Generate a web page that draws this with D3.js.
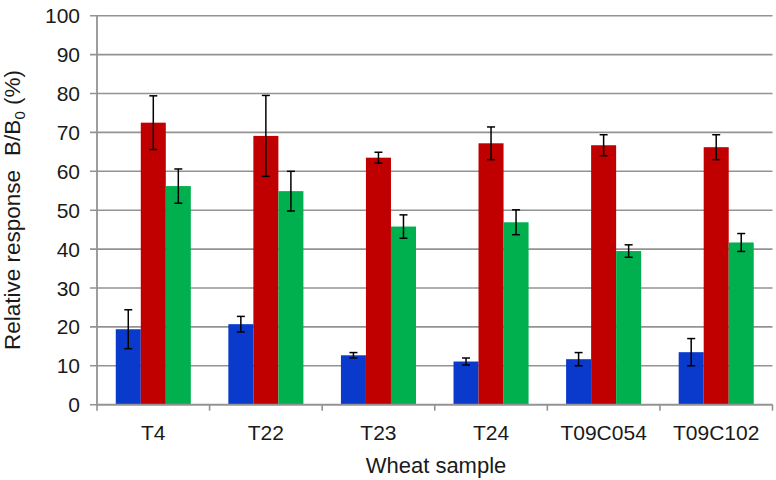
<!DOCTYPE html>
<html><head><meta charset="utf-8">
<script src="https://cdn.jsdelivr.net/npm/d3@7"></script>
<style>body{margin:0;background:#fff}svg{display:block}text{font-family:"Liberation Sans",Arial,sans-serif;fill:#1a1a1a}</style>
</head><body><svg id="c" width="776" height="480"></svg>
<script>
const categories = ["T4","T22","T23","T24","T09C054","T09C102"];
const seriesNames = ["s1","s2","s3"];
const blueVals = [19.4,20.7,12.7,11.1,11.7,13.5];
const blueErr  = [5.0,2.0,0.7,0.9,1.7,3.5];
const redVals  = [72.5,69.1,63.5,67.2,66.7,66.2];
const redErr   = [6.9,10.4,1.4,4.2,2.7,3.2];
const greenVals= [56.2,54.9,45.8,46.9,39.5,41.7];
const greenErr = [4.4,5.1,3.0,3.2,1.6,2.3];
const yTicks = [0,10,20,30,40,50,60,70,80,90,100];
const colors = ["#0a3acb","#c00000","#00b04f"];

const series = [
  {vals: blueVals, err: blueErr},
  {vals: redVals, err: redErr},
  {vals: greenVals, err: greenErr}
];
const svg = d3.select("#c");
const L=97, R=772.5, T=15.7, B=404.7;
const x = d3.scaleBand().domain(categories).range([L,R]).paddingInner(0).paddingOuter(0);
const y = d3.scaleLinear().domain([0,100]).range([B,T]);
const groupW = x.bandwidth()*2/3;
const x1 = d3.scaleBand().domain(seriesNames).range([0,groupW]);

// gridlines
svg.append("g").selectAll("line").data(yTicks).join("line")
  .attr("x1",L-7).attr("x2",R).attr("y1",d=>y(d)).attr("y2",d=>y(d))
  .attr("stroke","#939393").attr("stroke-width",1.6);
// y labels
svg.append("g").selectAll("text").data(yTicks).join("text")
  .attr("x",80).attr("y",d=>y(d)).attr("dy","0.36em").attr("text-anchor","end")
  .attr("font-size",21).text(d=>d);
// y axis line
svg.append("line").attr("x1",L).attr("x2",L).attr("y1",T).attr("y2",B)
  .attr("stroke","#939393").attr("stroke-width",1.8);
// bottom ticks
const bounds = categories.map(c=>x(c)).concat([R]);
svg.append("g").selectAll("line").data(bounds).join("line")
  .attr("x1",d=>d).attr("x2",d=>d).attr("y1",B).attr("y2",B+6)
  .attr("stroke","#939393").attr("stroke-width",1.6);

// bars
series.forEach((s,i)=>{
  const g = svg.append("g");
  g.selectAll("rect").data(categories).join("rect")
    .attr("x",(c)=>x(c)+(x.bandwidth()-groupW)/2+x1(seriesNames[i]))
    .attr("width",x1.bandwidth())
    .attr("y",(c,j)=>y(s.vals[j]))
    .attr("height",(c,j)=>B-y(s.vals[j]))
    .attr("fill",colors[i]);
});
// baseline over bars
svg.append("line").attr("x1",L).attr("x2",R).attr("y1",B).attr("y2",B)
  .attr("stroke","#939393").attr("stroke-width",1.8);
// error bars
series.forEach((s,i)=>{
  const g = svg.append("g").attr("stroke","#000").attr("stroke-width",1.5);
  categories.forEach((c,j)=>{
    const cx = x(c)+(x.bandwidth()-groupW)/2+x1(seriesNames[i])+x1.bandwidth()/2;
    const yt=y(s.vals[j]+s.err[j]), yb=y(s.vals[j]-s.err[j]);
    g.append("line").attr("x1",cx).attr("x2",cx).attr("y1",yt).attr("y2",yb);
    g.append("line").attr("x1",cx-4).attr("x2",cx+4).attr("y1",yt).attr("y2",yt);
    g.append("line").attr("x1",cx-4).attr("x2",cx+4).attr("y1",yb).attr("y2",yb);
  });
});
// category labels
svg.append("g").selectAll("text").data(categories).join("text")
  .attr("x",c=>x(c)+x.bandwidth()/2).attr("y",440).attr("text-anchor","middle")
  .attr("font-size",21).text(c=>c);
// x title
svg.append("text").attr("x",436).attr("y",473).attr("text-anchor","middle")
  .attr("font-size",22).text("Wheat sample");
// y title
const yt = svg.append("text").attr("transform","translate(20,350) rotate(-90)")
  .attr("text-anchor","start").attr("font-size",22.5);
yt.append("tspan").text("Relative response");
yt.append("tspan").attr("dx",14).text("B/B");
yt.append("tspan").attr("font-size",15).attr("dy",5).text("0");
yt.append("tspan").attr("dy",-5).text(" (%)");
</script></body></html>
